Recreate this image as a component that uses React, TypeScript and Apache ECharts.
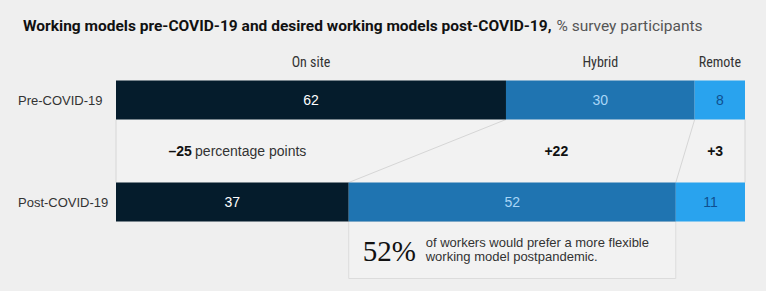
import React, { useEffect, useRef } from "react";
import * as echarts from "echarts";

const periods = ["Pre-COVID-19", "Post-COVID-19"];
const models = ["On site", "Hybrid", "Remote"];
const onSite = [62, 37];
const hybrid = [30, 52];
const remote = [8, 11];
const flexibleShare = 52;
const calloutText = ["of workers would prefer a more flexible", "working model postpandemic."];

const colors = ["#051c2c", "#1f74b1", "#29a3ee"];
const labelColors = ["#ffffff", "#a9d6f7", "#0f4f8f"];

const NARROW = "'Liberation Sans Narrow', 'Roboto Condensed', 'Roboto', sans-serif";
const TITLE = "Roboto, 'Liberation Sans', sans-serif";
const SANS = "'Liberation Sans', Arial, sans-serif";

export default function App() {
  const ref = useRef<HTMLDivElement>(null);
  useEffect(() => {
    document.body.style.margin = "0";
    document.body.style.background = "#efefef";
    const chart = echarts.init(ref.current!, null, { renderer: "svg" });
    const seriesData = [onSite, hybrid, remote];
    const barW = 39;
    chart.setOption({
      animation: false,
      backgroundColor: "#efefef",
      title: {
        left: 18,
        top: 12,
        text: "{b|Working models pre-COVID-19 and desired working models post-COVID-19,} {n|% survey participants}",
        textStyle: {
          rich: {
            b: { fontFamily: TITLE, fontWeight: "bold", fontSize: 15.5, color: "#111" },
            n: { fontFamily: TITLE, fontWeight: "normal", fontSize: 15.5, color: "#555" },
          },
        },
      },
      grid: { left: 116, right: 21, top: 49, bottom: 38 },
      xAxis: { type: "value", min: 0, max: 100, show: false },
      yAxis: {
        type: "category",
        data: periods,
        inverse: true,
        axisLine: { show: false },
        axisTick: { show: false },
        axisLabel: {
          align: "left",
          margin: 98,
          fontFamily: SANS,
          fontSize: 13,
          color: "#333",
        },
      },
      series: models.map((m, i) => ({
        name: m,
        type: "bar",
        stack: "total",
        barWidth: barW,
        data: seriesData[i],
        itemStyle: { color: colors[i] },
        label: {
          show: true,
          position: "inside",
          color: labelColors[i],
          fontFamily: SANS,
          fontSize: 14,
        },
      })),
    });

    const px = (v: number, row: number) =>
      chart.convertToPixel({ gridIndex: 0 }, [v, row]) as number[];
    const half = barW / 2;
    const preStarts = [0, onSite[0], onSite[0] + hybrid[0], onSite[0] + hybrid[0] + remote[0]];
    const postStarts = [0, onSite[1], onSite[1] + hybrid[1], onSite[1] + hybrid[1] + remote[1]];
    const preY = px(0, 0)[1];
    const postY = px(0, 1)[1];
    const yTop = preY + half;
    const yBot = postY - half;
    const preX = preStarts.map((v) => px(v, 0)[0]);
    const postX = postStarts.map((v) => px(v, 1)[0]);
    const lineStyle = { stroke: "#d6d6d6", lineWidth: 1 };
    const graphic: any[] = [];

    // middle band
    graphic.push({
      type: "rect",
      shape: { x: preX[0], y: yTop, width: preX[3] - preX[0], height: yBot - yTop },
      style: { fill: "#f2f2f2", stroke: "none" },
      silent: true,
    });
    graphic.push({ type: "line", shape: { x1: preX[0], y1: yTop, x2: postX[0], y2: yBot }, style: lineStyle });
    graphic.push({ type: "line", shape: { x1: preX[3], y1: yTop, x2: postX[3], y2: yBot }, style: lineStyle });
    graphic.push({ type: "line", shape: { x1: preX[1], y1: yTop, x2: postX[1], y2: yBot }, style: lineStyle });
    graphic.push({ type: "line", shape: { x1: preX[2], y1: yTop, x2: postX[2], y2: yBot }, style: lineStyle });

    // headers
    models.forEach((m, i) => {
      graphic.push({
        type: "text",
        x: (preX[i] + preX[i + 1]) / 2,
        y: preY - half - 19,
        style: { text: m, fontFamily: NARROW, fontSize: 14, fill: "#333", align: "center", verticalAlign: "middle" },
      });
    });

    // deltas
    const midY = (yTop + yBot) / 2;
    const deltas = [0, 1, 2].map((i) => seriesData[i][1] - seriesData[i][0]);
    const fmt = (d: number) => (d > 0 ? "+" + d : "\u2013" + Math.abs(d));
    graphic.push({
      type: "text",
      x: (postX[0] + postX[1]) / 2 + 5,
      y: midY,
      style: {
        text: "{b|" + fmt(deltas[0]) + "} {n|percentage points}",
        align: "center",
        verticalAlign: "middle",
        rich: {
          b: { fontFamily: SANS, fontWeight: "bold", fontSize: 14, fill: "#111" },
          n: { fontFamily: SANS, fontSize: 14, fill: "#333" },
        },
      },
    });
    [1, 2].forEach((i) => {
      graphic.push({
        type: "text",
        x: (preX[i] + preX[i + 1] + postX[i] + postX[i + 1]) / 4,
        y: midY,
        style: { text: fmt(deltas[i]), fontFamily: SANS, fontWeight: "bold", fontSize: 14, fill: "#111", align: "center", verticalAlign: "middle" },
      });
    });

    // callout box below post hybrid
    const boxTop = postY + half;
    const boxBot = boxTop + 57;
    graphic.push({
      type: "rect",
      shape: { x: postX[1], y: boxTop, width: postX[2] - postX[1], height: boxBot - boxTop },
      style: { fill: "#f2f2f2", stroke: "#dcdcdc", lineWidth: 1 },
    });
    graphic.push({
      type: "text",
      x: postX[1] + 14,
      y: (boxTop + boxBot) / 2 + 1,
      style: { text: flexibleShare + "%", fontFamily: "'Liberation Serif', 'DejaVu Serif', serif", fontSize: 29, fill: "#111", verticalAlign: "middle" },
    });
    graphic.push({
      type: "text",
      x: postX[1] + 77,
      y: (boxTop + boxBot) / 2 - 1,
      style: { text: calloutText.join("\n"), fontFamily: SANS, fontSize: 13, lineHeight: 14, fill: "#333", verticalAlign: "middle" },
    });

    chart.setOption({ graphic });
    return () => chart.dispose();
  }, []);
  return <div ref={ref} style={{ width: 766, height: 291 }} />;
}
